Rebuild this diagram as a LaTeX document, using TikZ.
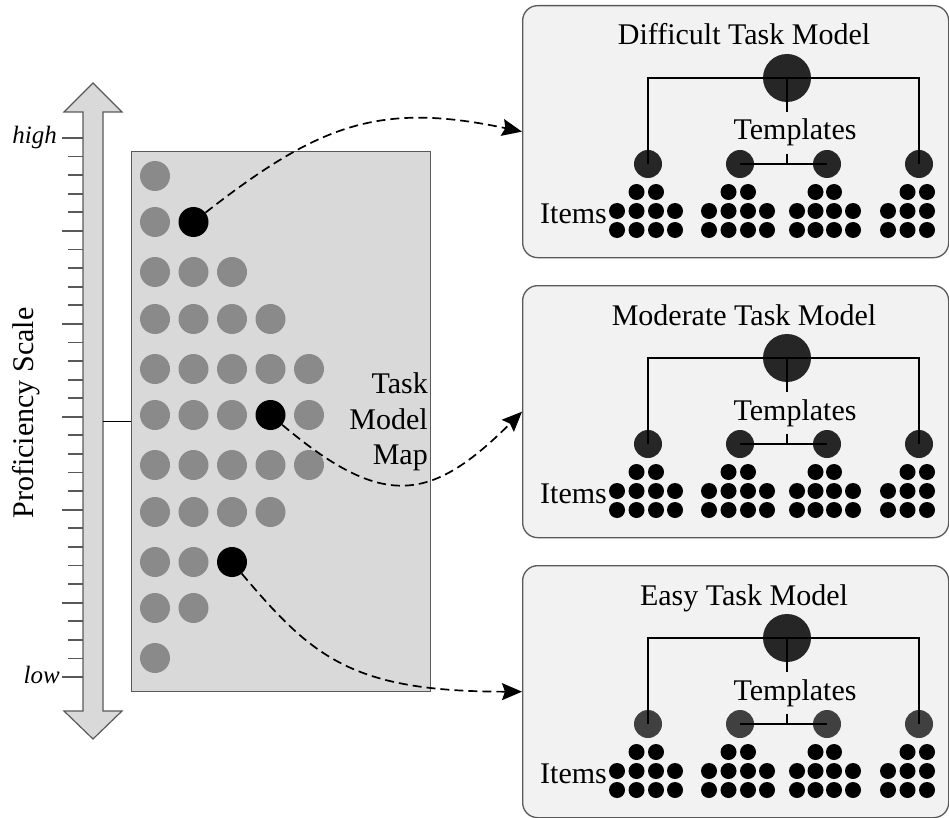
\documentclass[tikz,border=0pt]{standalone}
\usepackage{fontspec}
\setmainfont{Liberation Serif}
\usetikzlibrary{arrows.meta}

\definecolor{mapfill}{HTML}{D9D9D9}
\definecolor{dotgray}{HTML}{8A8A8A}
\definecolor{boxfill}{HTML}{F2F2F2}
\definecolor{edgegray}{HTML}{595959}
\definecolor{rootfill}{HTML}{262626}
\definecolor{easyfill}{HTML}{404040}

\tikzset{
  bigtext/.style={font=\fontsize{30}{36}\selectfont, inner sep=0pt},
  scaletext/.style={font=\fontsize{25}{30}\selectfont\itshape, inner sep=0pt},
  mapdot/.style={circle, fill=dotgray, minimum size=30pt, inner sep=0pt},
  keydot/.style={circle, fill=black, minimum size=30pt, inner sep=0pt},
  itemdot/.style={circle, fill=black, minimum size=16pt, inner sep=0pt},
  rootdot/.style={circle, fill=rootfill, minimum size=48pt, inner sep=0pt},
  tpldot/.style={circle, minimum size=28pt, inner sep=0pt},
  modelbox/.style={draw=edgegray, line width=1.3pt, fill=boxfill, rounded corners=15pt,
    minimum width=426pt, minimum height=252pt, anchor=north west, inner sep=0pt},
  treeline/.style={line width=1.2pt},
  link/.style={line width=1.7pt, dash pattern=on 9pt off 5pt,
    -{Stealth[length=20pt,width=17pt,inset=3pt]}},
  scaletick/.style={draw=edgegray, line width=1.8pt},
}

% One task model panel: #1 name, #2 top edge, #3 title, #4 template colour
\newcommand\taskmodel[4]{%
  \begin{scope}[shift={(0,#2)}]
    \node[modelbox] (#1) at (522,0) {};
    \node[bigtext, anchor=base] (#1-title) at (744,40) {#3};
    \node[rootdot] (#1-root) at (787,73) {};
    \node[bigtext, inner ysep=7pt, anchor=base] (#1-tpl) at (795,135) {Templates};
    \node[tpldot, fill=#4] (#1-t1) at (648,159) {};
    \node[tpldot, fill=#4] (#1-t2) at (740,159) {};
    \node[tpldot, fill=#4] (#1-t3) at (827,159) {};
    \node[tpldot, fill=#4] (#1-t4) at (919,159) {};
    \draw[treeline] (#1-t1.center) |- (#1-root.center) -| (#1-t4.center);
    \draw[treeline] (#1-root.center) -- (#1-root.center |- #1-tpl.north);
    \draw[treeline] (#1-t2.center) -- (#1-t3.center);
    \draw[treeline] (#1-tpl.south -| #1-root.center) -- (#1-root.center |- #1-t2.center);
    % items under each template
    \foreach \x [count=\k] in {636.5,656,728.5,748,815.5,834,907.5,927}
      \node[itemdot] (#1-a\k) at (\x,187) {};
    \foreach \x [count=\k] in {617,636.5,656,675,709,728.5,748,767,797,815.5,834,853,888,907.5,927}{
      \node[itemdot] (#1-b\k) at (\x,206) {};
      \node[itemdot] (#1-c\k) at (\x,225) {};
    }
    \node[bigtext, anchor=base west] (#1-items) at (540,218) {Items};
  \end{scope}}

\begin{document}
\begin{tikzpicture}[x=1pt, y=-1pt]
  \useasboundingbox (0,0) rectangle (949,818);

  % proficiency scale: double-headed arrow
  \fill[mapfill, draw=edgegray, line width=1.2pt]
    (93,83) -- (122,112) -- (103,112) -- (103,711) -- (122,711) -- (93,739)
    -- (64,711) -- (83,711) -- (83,112) -- (64,112) -- cycle;
  \foreach \i in {0,...,29}{
    \pgfmathsetmacro\ty{138+18.586*\i}
    \pgfmathtruncatemacro\islong{(mod(\i,5)==0)||(\i==29)}
    \ifnum\islong=1 \def\tx{62}\else\def\tx{68}\fi
    \draw[scaletick] (\tx,\ty) -- (83,\ty);
  }
  \node[bigtext, rotate=90, anchor=base] (scale) at (33,413) {Proficiency Scale};
  \node[scaletext, anchor=base east] (high) at (57,144) {high};
  \node[scaletext, anchor=base east] (low) at (60,683) {low};

  % task model map
  \node[draw=edgegray, fill=mapfill, line width=1.3pt, minimum width=299pt,
        minimum height=540pt, anchor=north west, inner sep=0pt] (map) at (131,151) {};
  \coordinate (shaftR) at (103,421);
  \draw[line width=1pt] (shaftR) -- (shaftR -| map.west);

  \foreach \y/\n [count=\r] in {176/1,222/2,272/3,319/4,369/5,415/5,465/5,512/4,562/3,608/2,658/1}
    \foreach \c in {1,...,\n}{
      \pgfmathtruncatemacro\key{(\r==2&&\c==2)||(\r==6&&\c==4)||(\r==9&&\c==3)}
      \ifnum\key=0 \node[mapdot] (m-\r-\c) at ({155+38.5*(\c-1)},\y) {};\fi
    }
  \node[keydot] (d1) at (193.5,222) {};
  \node[keydot] (d2) at (270.5,415) {};
  \node[keydot] (d3) at (232,562) {};

  \node[bigtext, anchor=base east] (mapA) at (428,393) {Task};
  \node[bigtext, anchor=base east] (mapB) at (428,429) {Model};
  \node[bigtext, anchor=base east] (mapC) at (428,464) {Map};

  % task model panels
  \taskmodel{hard}{5}{Difficult Task Model}{rootfill}
  \taskmodel{moderate}{285}{Moderate Task Model}{rootfill}
  \taskmodel{easy}{565}{Easy Task Model}{easyfill}

  % links from the map to the panels
  \draw[link] (d1.38) .. controls +(114,-89) and +(-142,-30) .. (hard.west);
  \draw[link] (d2.-40) .. controls +(100,84) and +(-92,92) .. (moderate.west);
  \draw[link] (d3.-50) .. controls +(71,84) and +(-170,0) .. (easy.west);
\end{tikzpicture}
\end{document}
